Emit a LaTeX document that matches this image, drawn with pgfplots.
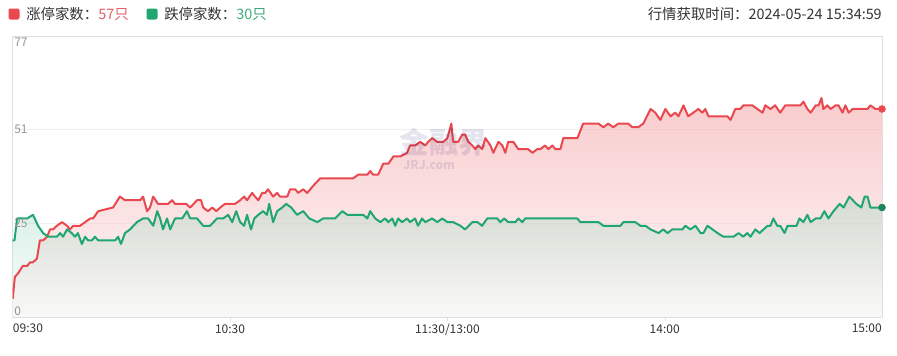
\documentclass[border=0pt]{standalone}
\usepackage{fontspec}
\setmainfont{Noto Sans CJK SC}
\usepackage{pgfplots}
\pgfplotsset{compat=1.18}
\usepackage{pgfplotstable}
\definecolor{upred}{RGB}{232,72,78}
\definecolor{uptext}{RGB}{226,96,100}
\definecolor{dngreen}{RGB}{32,166,112}
\definecolor{dntext}{RGB}{60,170,120}
\definecolor{gridc}{RGB}{240,240,240}
\definecolor{axc}{RGB}{222,222,222}
\definecolor{labx}{RGB}{51,51,51}
\definecolor{laby}{RGB}{150,150,150}
\definecolor{legtext}{RGB}{51,51,51}

\pgfplotstableread{
m v
0 5
0.6 11
1.5 12
2.8 14
4.0 14
4.8 15
5.6 15
6.7 16
7.5 21
8.4 21
9.5 22
10.3 24
11.1 24
12.2 25
13.6 26
15.0 25
15.8 24
16.7 25
18.6 25
20.0 26
21.4 27
22.2 27
23.6 29
27.7 30
29.6 33
31.0 32
35.2 32
36.0 33
37.1 29
37.9 30
38.8 33
40.1 31
41.5 31
42.9 31
44.0 32
44.8 31
46.2 31
47.9 31
49.0 30
50.9 32
52.0 32
52.6 30
53.9 29
55.1 30
56.2 29
57.3 30
58.6 31
61.4 31
62.8 32
63.9 33
64.7 32
66.1 34
66.9 33
67.8 32
68.9 34
69.7 34
70.5 35
71.9 33
73.0 34
73.8 33
75.8 33
76.6 35
78.0 35
78.8 34
80.2 35
81.3 34
83.0 36
84.9 38
94.0 38
95.4 39
97.9 39
98.7 40
99.5 39
100.9 39
102.3 42
103.7 42
105.1 44
107.0 44
108.9 45
109.7 47
111.1 47
112.5 48
113.9 47
114.7 48
115.8 49
117.2 48
118.0 48
118.9 48
120.0 49
121.1 53
121.6 48
123.0 48
124.1 50
124.9 50
125.8 48
126.9 47
127.7 46
128.5 47
129.6 46
130.5 49
131.9 47
132.7 45
134.1 48
135.2 47
136.0 45
136.8 48
138.2 48
139.6 46
141.0 46
142.3 46
143.5 45
144.8 46
145.7 46
147.0 47
147.9 46
149.0 47
149.8 46
151.2 46
152.0 49
155.9 49
157.5 53
161.7 53
163.1 52
164.4 53
165.8 52
167.2 53
169.9 53
171.1 52
172.7 52
174.1 53
176.1 57
177.4 56
178.8 54
180.2 57
181.6 55
182.9 56
183.8 55
185.2 58
186.5 55
187.9 56
189.3 57
190.4 56
191.2 57
192.1 55
195.4 55
197.3 55
198.2 54
199.5 57
200.9 57
201.7 58
204.2 58
205.6 57
207.0 56
207.8 58
209.2 57
210.5 58
211.9 56
213.3 58
217.5 58
218.3 59
219.4 57
220.3 56
221.7 58
222.5 58
223.3 60
223.8 57
224.9 58
225.8 57
227.2 58
228.0 58
229.1 56
229.9 58
230.8 56
231.9 57
236.0 57
236.8 58
238.2 57
240 57
}\redtbl

\pgfplotstableread{
m v
0 21
0.5 21
1.2 27
4.0 27
5.6 28
7.0 25
8.4 23
9.8 22
11.1 22
12.2 22
13.1 23
13.9 22
15.0 24
16.3 23
17.2 22
18.0 23
19.1 20
20.0 22
20.8 21
21.9 21
22.7 22
23.6 21
28.3 21
29.1 22
29.9 20
31.0 23
32.4 24
34.3 26
36.0 27
37.4 27
38.8 25
39.9 29
40.7 27
41.5 24
42.6 27
43.5 24
44.8 27
46.8 27
48.1 29
49.0 27
50.9 27
52.6 25
54.5 25
56.4 27
58.1 27
59.5 28
60.6 26
61.7 29
62.8 26
63.9 25
64.7 28
65.8 24
66.7 27
67.8 28
69.1 29
70.2 28
70.8 31
71.9 26
73.0 29
74.4 30
75.5 31
76.9 30
78.5 28
80.2 29
81.9 27
84.1 26
85.7 27
87.4 27
89.0 27
91.0 29
92.4 28
94.0 28
96.8 28
97.9 27
98.7 29
100.1 27
101.5 26
102.8 27
103.7 26
104.8 27
105.6 25
106.4 27
107.5 26
108.9 27
109.7 26
111.1 27
111.9 25
113.0 27
113.9 26
115.8 27
117.2 26
118.6 27
120.0 26
121.6 26
123.6 25
124.9 24
126.9 26
128.3 26
129.6 25
131.0 27
133.8 27
134.6 26
135.7 27
136.8 26
138.8 26
139.6 27
140.7 26
141.5 27
155.9 27
156.7 26
161.7 26
163.1 25
167.8 25
168.6 26
171.9 26
173.3 25
174.7 25
176.1 24
178.3 23
179.6 24
180.8 23
182.1 24
184.9 24
185.7 25
187.1 24
188.5 25
189.9 23
190.7 23
191.8 25
193.2 24
194.6 23
196.2 22
197.6 22
199.0 22
200.4 23
201.7 22
202.8 23
203.7 22
205.0 24
206.2 23
207.3 24
208.4 25
209.2 25
210.0 27
211.1 25
211.9 25
213.1 23
213.9 25
215.3 25
216.4 25
217.2 27
218.3 26
219.4 28
220.3 26
221.7 27
223.0 27
224.1 29
225.2 27
226.6 29
228.3 31
229.4 30
231.0 33
232.9 31
234.3 30
235.2 33
236.0 33
236.8 30
238.7 30
240 30
}\greentbl

\begin{document}
\begin{tikzpicture}[x=0.75pt,y=0.75pt]
\useasboundingbox (0,0) rectangle (897,355);
% legend
\fill[upred, rounded corners=1.5pt] (8.5,335.5) rectangle (19.5,346.5);
\node[anchor=west, inner sep=0pt, text=legtext, font=\fontsize{10.8}{12}\selectfont] at (26,341) {涨停家数：\textcolor{uptext}{57只}};
\fill[dngreen, rounded corners=1.5pt] (146.5,335.5) rectangle (157.5,346.5);
\node[anchor=west, inner sep=0pt, text=legtext, font=\fontsize{10.8}{12}\selectfont] at (164,341) {跌停家数：\textcolor{dntext}{30只}};
\node[anchor=east, inner sep=0pt, text=legtext, font=\fontsize{10.8}{12}\selectfont] at (882,341) {行情获取时间：2024-05-24 15:34:59};
\begin{axis}[
  at={(9.525pt,28.5pt)}, anchor=south west,
  scale only axis, width=651.975pt, height=210.75pt,
  xmin=0, xmax=240, ymin=0, ymax=77,
  axis line style={draw=axc},
  xtick={60,120,180},
  xticklabels={10:30,11:30/13:00,14:00},
  xtick pos=lower, tick align=outside,
  major tick length=3pt,
  x tick style={draw=axc},
  x tick label style={font=\fontsize{9}{10}\selectfont, text=labx, yshift=1pt},
  ytick={0,25.6667,51.3333,77},
  yticklabels={},
  y tick style={draw=none},
  ymajorgrids, grid style={draw=gridc},
  clip mode=individual,
]
\addplot[draw=none, fill opacity=0.5, top color=upred!56!white, bottom color=upred!8!white] table[x=m,y=v]{\redtbl} \closedcycle;
\addplot[draw=none, fill opacity=0.35, top color=dngreen!50!white, bottom color=dngreen!6!white] table[x=m,y=v]{\greentbl} \closedcycle;
\addplot[upred, line width=1.5pt, line join=round, mark=none] table[x=m,y=v]{\redtbl};
\addplot[dngreen, line width=1.5pt, line join=round, mark=none] table[x=m,y=v]{\greentbl};
\addplot[only marks, mark=*, mark size=2.6pt, color=upred] coordinates {(240,57)};
\addplot[only marks, mark=*, mark size=2.6pt, color=dngreen!80!black] coordinates {(240,30)};
% watermark
\node[opacity=0.10, text=blue!40!black, font=\bfseries\fontsize{22}{22}\selectfont] at (axis cs:119,48) {金融界};
\node[opacity=0.10, text=blue!40!black, font=\bfseries\fontsize{9}{9}\selectfont] at (axis cs:115,41.5) {JRJ.com};
% y tick labels inside the plot
\node[anchor=north west, inner sep=1pt, text=laby, font=\fontsize{9}{10}\selectfont] at (axis cs:0,77) {77};
\node[anchor=west, inner sep=1pt, text=laby, font=\fontsize{9}{10}\selectfont] at (axis cs:0,51.3333) {51};
\node[anchor=west, inner sep=1pt, text=laby, font=\fontsize{9}{10}\selectfont] at (axis cs:0,25.6667) {25};
\node[anchor=south west, inner sep=1pt, text=laby, font=\fontsize{9}{10}\selectfont] at (axis cs:0,0) {0};
% end x labels
\node[anchor=north west, inner sep=0pt, text=labx, font=\fontsize{9}{10}\selectfont] at ([yshift=-5pt]axis cs:0,0) {09:30};
\node[anchor=north east, inner sep=0pt, text=labx, font=\fontsize{9}{10}\selectfont] at ([yshift=-5pt]axis cs:240,0) {15:00};
\end{axis}
\end{tikzpicture}
\end{document}
